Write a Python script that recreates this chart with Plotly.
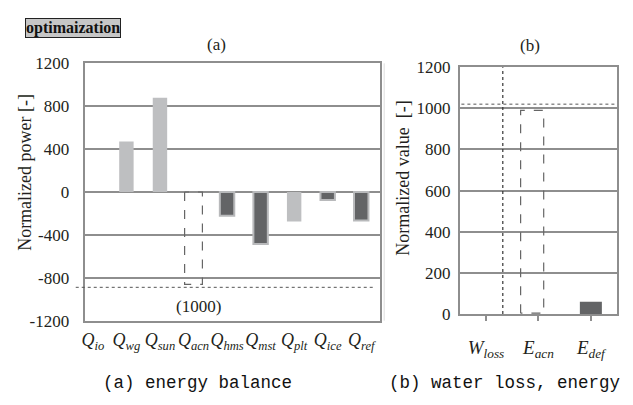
import plotly.graph_objects as go

W, H = 633, 405

# ---------------- data ----------------
cats_a = ["io", "wg", "sun", "acn", "hms", "mst", "plt", "ice", "ref"]
vals_a = [0, 470, 880, None, -222, -485, -275, -75, -265]
shade_a = ["light", "light", "light", "none", "dark", "dark", "light", "dark", "dark"]
qacn_drawn = -862      # truncated dashed box
qacn_true = 1000
trunc_level_a = -889

cats_b_main = ["W", "E", "E"]
cats_b_sub = ["loss", "acn", "def"]
vals_b = [None, None, 60]
eacn_box = 990
ref_level_b = 1020

yticks_a = [-1200, -800, -400, 0, 400, 800, 1200]
yticks_b = [0, 200, 400, 600, 800, 1000, 1200]

# ---------------- styles ----------------
LIGHT = "#bebfc1"
DARK = "#636466"
GRID = "#8e8e8e"
SERIF = "Liberation Serif"
MONO = "Liberation Mono"
TXT = "#231f20"


def px(x):
    return x / W


def py(y):
    return 1 - y / H


fig = go.Figure()

# panel (a) bars
idx_a = list(range(len(cats_a)))
for kind, color, lw in [("light", LIGHT, 0), ("dark", DARK, 2)]:
    xs = [i for i in idx_a if shade_a[i] == kind]
    ys = [vals_a[i] for i in xs]
    fig.add_trace(go.Bar(x=xs, y=ys, width=0.43, marker=dict(color=color, line=dict(color="#b8b9bb", width=lw)),
                         xaxis="x", yaxis="y", showlegend=False))

# dashed Qacn box
i = cats_a.index("acn")
w = 0.53
fig.add_trace(go.Scatter(x=[i - w / 2, i - w / 2, i + w / 2, i + w / 2, i - w / 2],
                         y=[0, qacn_drawn, qacn_drawn, 0, 0], mode="lines",
                         line=dict(color="#666", width=1.2, dash="dash"),
                         xaxis="x", yaxis="y", showlegend=False))

# panel (b)
idx_b = [0, 1, 2]
fig.add_trace(go.Bar(x=[2], y=[vals_b[2]], width=0.42, marker=dict(color=DARK, line=dict(width=0)),
                     xaxis="x2", yaxis="y2", showlegend=False))
cb = 1 - 0.12
wb = 0.44
fig.add_trace(go.Scatter(x=[cb - wb / 2, cb - wb / 2, cb + wb / 2, cb + wb / 2, cb - wb / 2],
                         y=[4, eacn_box, eacn_box, 4, 4], mode="lines",
                         line=dict(color="#666", width=1.2, dash="dash"),
                         xaxis="x2", yaxis="y2", showlegend=False))

ticktext_a = [f"<i>Q<sub>{c}</sub></i>" for c in cats_a]
ticktext_b = [f"<i>{m}<sub>{s}</sub></i>" for m, s in zip(cats_b_main, cats_b_sub)]

axis_common = dict(showline=True, mirror=True, linecolor=GRID, linewidth=2, zeroline=False,
                   gridcolor=GRID, gridwidth=1.5)

fig.update_layout(
    width=W, height=H, margin=dict(l=0, r=0, t=0, b=0),
    paper_bgcolor="white", plot_bgcolor="white", barmode="overlay",
    font=dict(family=SERIF, color=TXT, size=17),
    xaxis=dict(domain=[px(82), px(379)], range=[-0.246, 8.565], tickmode="array", tickvals=idx_a,
               ticktext=ticktext_a, showgrid=False, ticks="", tickfont=dict(size=18, family=SERIF),
               tickangle=0, ticklabelstandoff=2, anchor="y", **axis_common),
    yaxis=dict(domain=[py(327), py(57)], range=[-1200, 1200], tickmode="array", tickvals=yticks_a,
               ticktext=[str(v) for v in yticks_a],
               ticks="", ticklabelstandoff=10, tickfont=dict(size=17, family=SERIF), anchor="x", **axis_common),
    xaxis2=dict(domain=[px(459), px(617)], range=[-0.5, 2.5], tickmode="array", tickvals=idx_b,
                ticktext=ticktext_b, showgrid=False, ticks="outside", ticklen=5, tickcolor=GRID,
                tickwidth=1.5, tickson="boundaries", tickfont=dict(size=19, family=SERIF), ticklabelstandoff=10,
                tickangle=0, anchor="y2", **axis_common),
    yaxis2=dict(domain=[py(320), py(61)], range=[0, 1200], tickmode="array", tickvals=yticks_b,
                ticktext=[str(v) for v in yticks_b],
                ticks="", ticklabelstandoff=4, tickfont=dict(size=17, family=SERIF), anchor="x2", **axis_common),
)

# reference / truncation lines
fig.add_shape(type="line", xref="x domain", yref="y", x0=-0.03, x1=0.98, y0=trunc_level_a, y1=trunc_level_a,
              line=dict(color="#555", width=1, dash="dot"))
fig.add_shape(type="line", xref="x2 domain", yref="y2", x0=0.01, x1=1.0, y0=ref_level_b, y1=ref_level_b,
              line=dict(color="#555", width=1, dash="dot"))
fig.add_shape(type="line", xref="x2", yref="y2 domain", x0=0 + 0.32, x1=0 + 0.32, y0=0, y1=1,
              line=dict(color="#333", width=1.2, dash="dot"))
# faint separator
fig.add_shape(type="line", xref="paper", yref="paper", x0=px(383), x1=px(383), y0=py(327), y1=py(57),
              line=dict(color="#dddddd", width=1))

ann = [
    dict(text="<b>optimaization</b>", x=px(22), y=py(20), xanchor="left", yanchor="middle",
         font=dict(size=16, family=SERIF, color="#111"), bgcolor="#c6c6c6", bordercolor="#222",
         borderwidth=1, borderpad=0),
    dict(text="(a)", x=px(215), y=py(37), font=dict(size=17, family=SERIF)),
    dict(text="(b)", x=px(530), y=py(38), font=dict(size=17, family=SERIF)),
    dict(text="Normalized power [-]", x=px(22), y=py(171), textangle=-90, font=dict(size=18, family=SERIF)),
    dict(text="Normalized value  [-]", x=px(402), y=py(178), textangle=-90, font=dict(size=18, family=SERIF)),
    dict(text=f"({qacn_true})", x=px(196), y=py(312), font=dict(size=17, family=SERIF)),
    dict(text="(a) energy balance", x=px(195), y=py(392),
         font=dict(size=17.5, family=MONO, color="#111")),
    dict(text="(b) water loss, energy", x=px(504), y=py(392),
         font=dict(size=17.5, family=MONO, color="#111")),
]
for a in ann:
    a.setdefault("xref", "paper")
    a.setdefault("yref", "paper")
    a.setdefault("showarrow", False)
    a.setdefault("xanchor", "center")
    a.setdefault("yanchor", "middle")
    fig.add_annotation(**a)

fig.write_html("out.html")
